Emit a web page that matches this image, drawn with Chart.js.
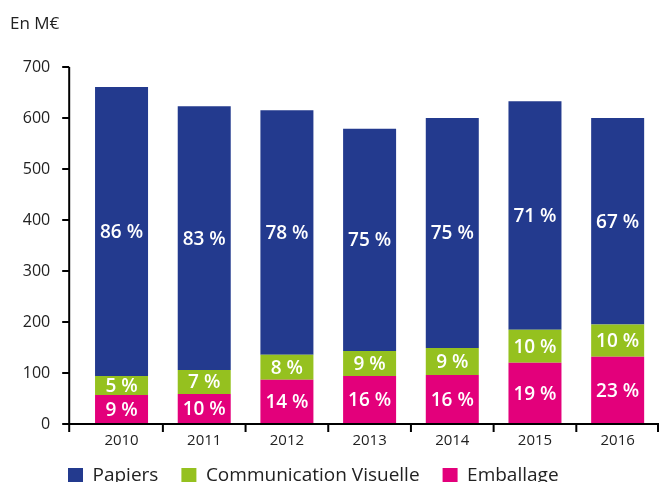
<!DOCTYPE html>
<html>
<head>
<meta charset="utf-8">
<script src="https://cdn.jsdelivr.net/npm/chart.js@4.4.0/dist/chart.umd.min.js"></script>
<style>
  html, body { margin: 0; padding: 0; background: #fff; overflow: hidden; }
  #wrap { position: relative; width: 659px; height: 510px; }
</style>
</head>
<body>
<div id="wrap"><canvas id="marches"></canvas></div>
<script>
// Marché en M€ par segment
const years = ['2010', '2011', '2012', '2013', '2014', '2015', '2016'];
const papiers = [567, 517, 479, 436, 451, 448, 405];
const communication = [37, 47, 49, 49, 53, 65, 63];
const emballage = [57, 59, 87, 94, 96, 120, 132];

const papiersPct = ['86 %', '83 %', '78 %', '75 %', '75 %', '71 %', '67 %'];
const communicationPct = ['5 %', '7 %', '8 %', '9 %', '9 %', '10 %', '10 %'];
const emballagePct = ['9 %', '10 %', '14 %', '16 %', '16 %', '19 %', '23 %'];

const yMax = 700;
const yStep = 100;

const FONT = "'Open Sans', sans-serif";

// percentages written in the middle of each segment
const pctLabels = {
    id: 'pctLabels',
    afterDatasetsDraw(chart) {
        const ctx = chart.ctx;
        ctx.save();
        ctx.fillStyle = '#fff';
        ctx.font = '600 19px ' + FONT;
        ctx.textAlign = 'center';
        ctx.textBaseline = 'middle';
        chart.data.datasets.forEach((ds, di) => {
            const meta = chart.getDatasetMeta(di);
            meta.data.forEach((bar, i) => {
                ctx.fillText(ds.pct[i], bar.x, (bar.y + bar.base) / 2 + 1);
            });
        });
        ctx.restore();
    }
};

// axis lines sit a bit left of the first category, so draw them here
const axes = {
    id: 'axes',
    afterLayout(chart) {
        // legend starts under the y axis and sits a little higher
        chart.legend.left += 45;
        chart.legend.right += 45;
        chart.legend.top -= 15;
        chart.legend.bottom -= 15;
    },
    afterDatasetsDraw(chart) {
        const {ctx, chartArea, scales: {x, y}} = chart;
        const axisX = chartArea.left - 11;
        ctx.save();
        ctx.strokeStyle = '#000';
        ctx.lineWidth = 2;
        ctx.beginPath();
        ctx.moveTo(axisX, y.getPixelForValue(yMax));
        ctx.lineTo(axisX, chartArea.bottom + 8);
        y.ticks.forEach(t => {
            const py = y.getPixelForValue(t.value);
            ctx.moveTo(axisX - 7, py);
            ctx.lineTo(axisX, py);
        });
        ctx.moveTo(axisX, chartArea.bottom);
        ctx.lineTo(chartArea.right, chartArea.bottom);
        for (let i = 1; i <= years.length; i++) {
            let px = chartArea.right - 1;
            if (i < years.length) {
                px = (x.getPixelForValue(i - 1) + x.getPixelForValue(i)) / 2;
            }
            ctx.moveTo(px, chartArea.bottom);
            ctx.lineTo(px, chartArea.bottom + 8);
        }
        ctx.stroke();

        ctx.fillStyle = '#222';
        ctx.font = '17px ' + FONT;
        ctx.textAlign = 'left';
        ctx.textBaseline = 'alphabetic';
        ctx.fillText('En M€', 10, 29);
        ctx.restore();
    }
};

const ctx = document.getElementById('marches').getContext('2d');
new Chart(ctx, {
    type: 'bar',
    data: {
        labels: years,
        datasets: [
            { label: 'Emballage', data: emballage, pct: emballagePct, backgroundColor: '#E3007B' },
            { label: 'Communication Visuelle', data: communication, pct: communicationPct, backgroundColor: '#95C11F' },
            { label: 'Papiers', data: papiers, pct: papiersPct, backgroundColor: '#233A8E' }
        ]
    },
    options: {
        responsive: true,
        maintainAspectRatio: false,
        animation: false,
        datasets: {
            bar: { categoryPercentage: 1, barPercentage: 0.641 }
        },
        layout: { padding: { left: 0, top: 67, right: 0, bottom: 0 } },
        plugins: {
            legend: {
                position: 'bottom',
                align: 'start',
                reverse: true,
                labels: {
                    boxWidth: 15,
                    boxHeight: 15,
                    padding: 23,
                    color: '#222',
                    font: { family: FONT, size: 19 }
                }
            },
            tooltip: { enabled: false }
        },
        scales: {
            x: {
                stacked: true,
                grid: { display: false, drawTicks: false },
                border: { display: false },
                ticks: { color: '#222', padding: 8, font: { family: FONT, size: 15 } }
            },
            y: {
                stacked: true,
                min: 0,
                max: yMax,
                grid: { display: false, drawTicks: false },
                border: { display: false },
                ticks: { stepSize: yStep, color: '#222', padding: 30, font: { family: FONT, size: 16 } },
                afterFit(scale) { scale.width = 80.2; }
            }
        }
    },
    plugins: [pctLabels, axes]
});
</script>
</body>
</html>
